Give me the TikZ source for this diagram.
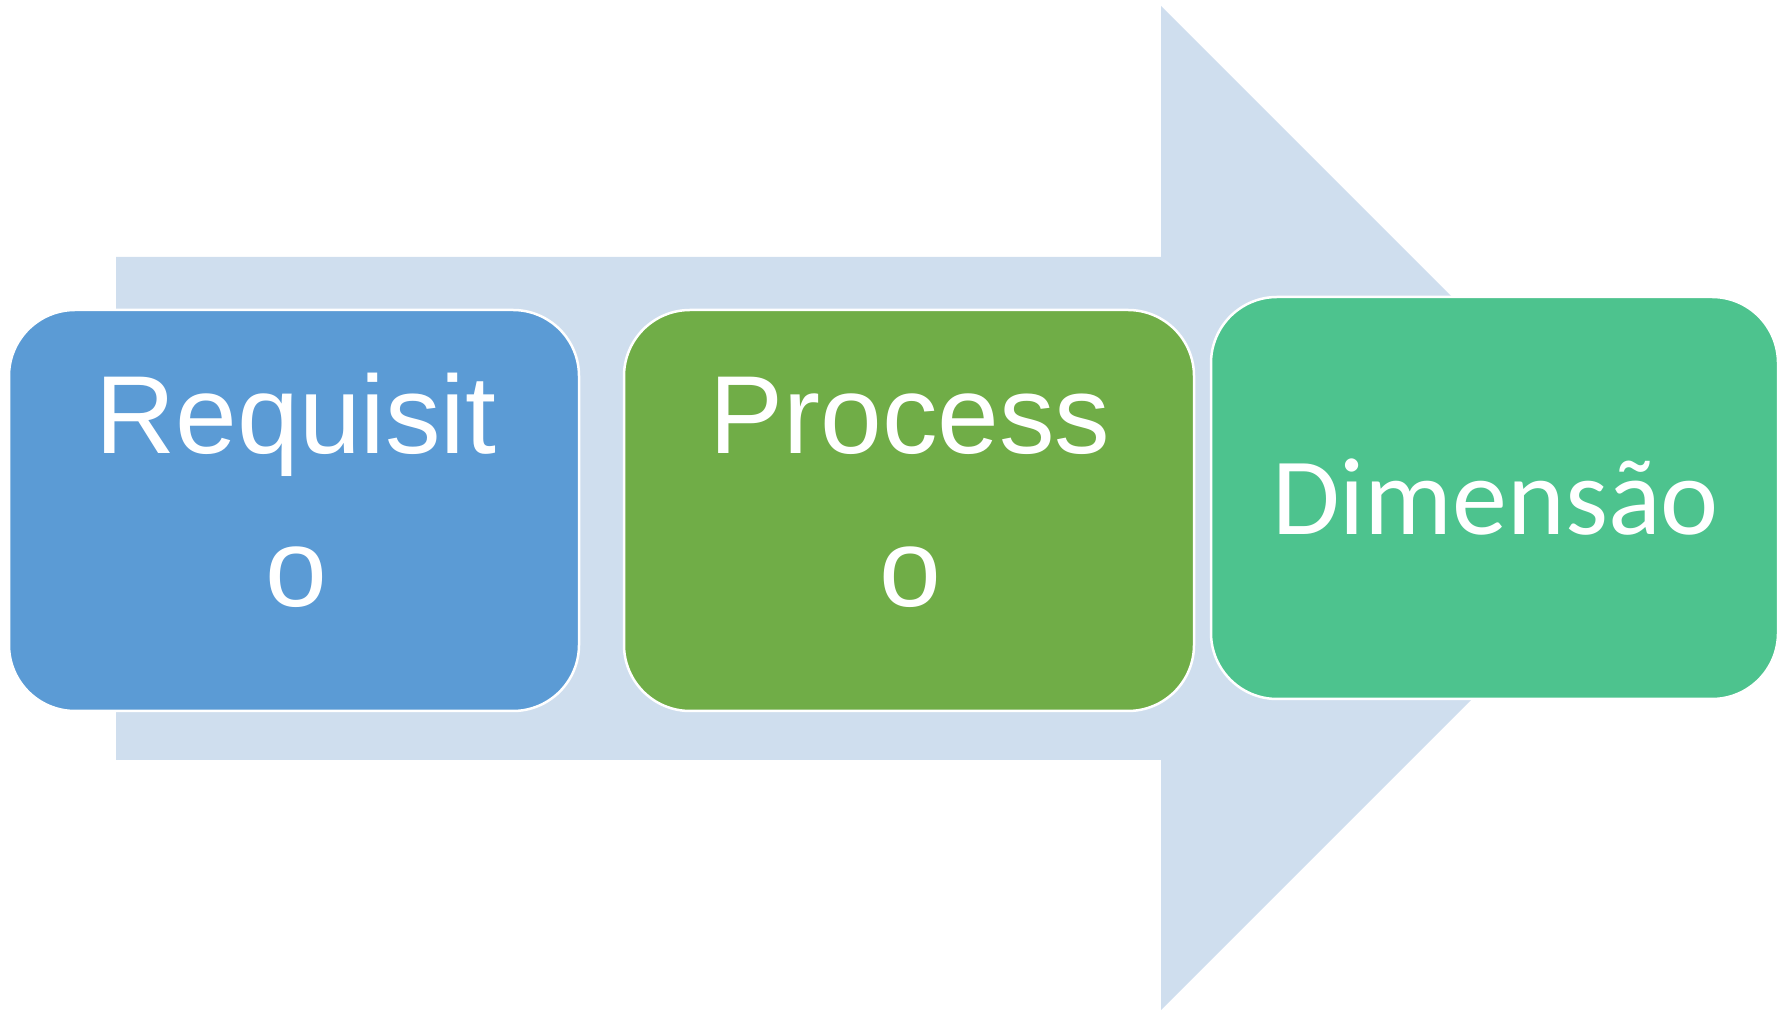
\documentclass[tikz,border=0pt]{standalone}
\usepackage{fontspec}
\setmainfont{Liberation Sans}
\newfontfamily\dimfont{Carlito}
\usetikzlibrary{positioning,calc}

\definecolor{arrowbg}{RGB}{207,222,238}
\definecolor{reqblue}{RGB}{91,155,213}
\definecolor{procgreen}{RGB}{112,173,71}
\definecolor{dimgreen}{RGB}{77,195,142}

\begin{document}
\begin{tikzpicture}
                    [x=1pt,y=1pt,
                     stage/.style={draw=white,line width=2.5pt,rounded corners=66pt,inner sep=0pt,
                                   minimum width=570pt,minimum height=401pt},
                     stagetext/.style={align=center,text=white,inner sep=0pt,anchor=base,
                                       font=\fontsize{111pt}{153pt}\selectfont}]

                        \useasboundingbox (0,0) rectangle (1779,1011);

                        % big arrow behind the boxes
                        \coordinate (tail top) at (116,754);
                        \coordinate (tail bot) at (116,251);
                        \coordinate (tip) at (1663,503);
                        \fill[arrowbg] (tail top) -- (1161,754) -- (1161,1005) -- (tip)
                                       -- (1161,1) -- (1161,251) -- (tail bot) -- cycle;

                        \node[stage,fill=reqblue] (req) at (294,500.5) {};
                        \node[stage,fill=procgreen] (proc) at (909,500.5) {};
                        \node[stage,fill=dimgreen,minimum width=567pt,minimum height=402pt] (dim) at (1494.5,513) {};

                        % base = baseline of the last line
                        \node[stagetext] (reqtext) at ($(req.center)+(2,-96.5)$) {Requisit\\o};
                        \node[stagetext] (proctext) at ($(proc.center)+(1,-96.5)$) {Process\\o};
                        \node[stagetext,font=\dimfont\fontsize{110pt}{128pt}\selectfont] (dimtext)
                              at ($(dim.center)+(1,-37)$) {Dimensão};

                \end{tikzpicture}
\end{document}
